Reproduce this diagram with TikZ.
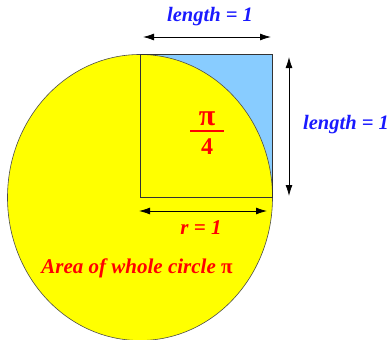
\documentclass[tikz,border=0pt]{standalone}
\usepackage{fontspec}
\setmainfont{Liberation Serif}
\usetikzlibrary{arrows.meta}
\definecolor{skyb}{HTML}{88CCFF}
\definecolor{lblue}{HTML}{1A1AFF}
\definecolor{lred}{HTML}{FF0000}
\definecolor{yel}{HTML}{FFFF00}
\tikzset{
  dim/.style={{Latex[length=11pt,width=7pt]}-{Latex[length=11pt,width=7pt]}, line width=0.8pt},
  bluelab/.style={text=lblue, font=\fontsize{20.5}{22}\selectfont\bfseries\itshape, inner sep=0pt},
  redlab/.style={text=lred, font=\fontsize{21}{23}\selectfont\bfseries\itshape, inner sep=0pt},
  fraclab/.style={text=lred, font=\fontsize{24}{26}\selectfont\bfseries, inner sep=0pt},
}
\begin{document}
\begin{tikzpicture}[x=1pt,y=-1pt]
\useasboundingbox (0,0) rectangle (389,340);
\begin{scope}
\clip (0,0) rectangle (389,340);
\fill[skyb] (140,54.5) rectangle (272.5,197.5);
\filldraw[fill=yel, draw=black!70, line width=0.6pt] (140,197.5) ellipse [x radius=132.5, y radius=143];
\end{scope}
\draw[line width=0.7pt, black!80] (140,54.5) rectangle (272.5,197.5);
\coordinate (t1) at (143,37); \coordinate (t2) at (271,37);
\coordinate (v1) at (289,57); \coordinate (v2) at (289,196);
\coordinate (b1) at (139,211); \coordinate (b2) at (267,211);
\draw[dim] (t1) -- (t2);
\draw[dim] (v1) -- (v2);
\draw[dim] (b1) -- (b2);
\node[bluelab] (lt) at (210,17) {length = 1};
\node[bluelab] (lr) at (346,125) {length = 1};
\node[redlab] (lrr) at (201,228) {r = 1};
\node[redlab] (area) at (137,268) {Area of whole circle \textup{π}};
\node[fraclab, font=\fontsize{30}{32}\selectfont\bfseries] (pi) at (207,119) {π};
\node[fraclab] (four) at (207,147) {4};
\coordinate (fl) at (190,131); \coordinate (fr) at (224,131);
\draw[lred, line width=1.6pt] (fl) -- (fr);
\end{tikzpicture}
\end{document}
